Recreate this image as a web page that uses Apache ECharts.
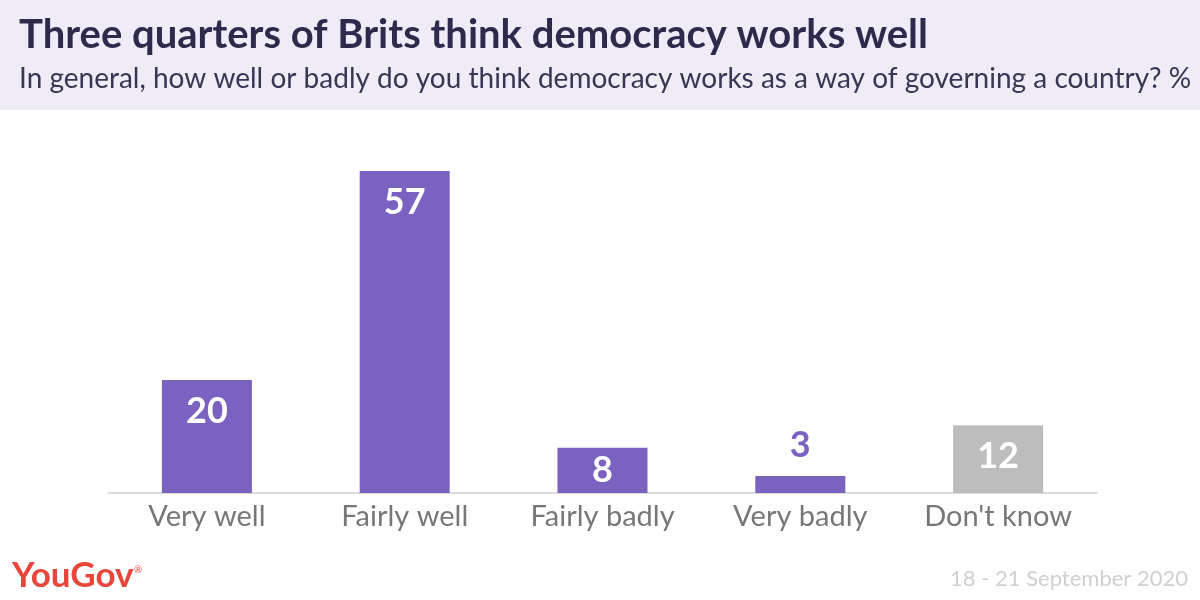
<!DOCTYPE html>
<html><head><meta charset="utf-8">
<script src="https://cdn.jsdelivr.net/npm/echarts@6/dist/echarts.min.js"></script>
<style>html,body{margin:0;padding:0;background:#fff}#c{width:1200px;height:600px}</style>
</head><body><div id="c"></div>
<script>
const categories = ['Very well', 'Fairly well', 'Fairly badly', 'Very badly', "Don't know"];
const values = [20, 57, 8, 3, 12];
const barColors = ['#7B62C0', '#7B62C0', '#7B62C0', '#7B62C0', '#BDBDBD'];
const labelPositions = ['insideTop', 'insideTop', 'inside', 'top', 'insideTop'];
const labelColors = ['#ffffff', '#ffffff', '#ffffff', '#7B62C0', '#ffffff'];
const titleText = 'Three quarters of Brits think democracy works well';
const subtitleText = 'In general, how well or badly do you think democracy works as a way of governing a country? %';
const dateText = '18 - 21 September 2020';

const FONT = 'Lato';
const chart = echarts.init(document.getElementById('c'));
chart.setOption({
  animation: false,
  graphic: [
    { type: 'rect', left: 0, top: 0, shape: { width: 1200, height: 110 }, style: { fill: '#EFECF7' }, z: -1 },
    { type: 'text', left: 19, top: 15, style: { text: titleText, font: 'bold 40px ' + FONT, fill: '#2E2A4C' } },
    { type: 'text', left: 19, top: 65, style: { text: subtitleText, font: '28px ' + FONT, fill: '#3A3553' } },
    { type: 'text', left: 12, top: 558, style: { text: 'YouGov', font: 'bold 35px ' + FONT, fill: '#E8463B' } },
    { type: 'text', left: 134, top: 565, style: { text: '®', font: '10px ' + FONT, fill: '#E8463B' } },
    { type: 'text', right: 12, top: 568, style: { text: dateText, font: '22px ' + FONT, fill: '#D0D0D0' } }
  ],
  grid: { left: 108, right: 103, top: 154, bottom: 107 },
  xAxis: {
    type: 'category', data: categories,
    axisLine: { lineStyle: { color: '#D0D0D0', width: 1.5 } },
    axisTick: { show: false },
    axisLabel: { color: '#777777', fontSize: 29, fontFamily: FONT, margin: 9 }
  },
  yAxis: { type: 'value', min: 0, max: 60, show: false, splitLine: { show: false } },
  series: [{
    type: 'bar', barWidth: 90,
    data: values.map((v, i) => ({
      value: v,
      itemStyle: { color: barColors[i] },
      label: { position: labelPositions[i], color: labelColors[i] }
    })),
    label: { show: true, fontSize: 36, fontWeight: 'bold', fontFamily: FONT, distance: 13 }
  }]
});
</script></body></html>
